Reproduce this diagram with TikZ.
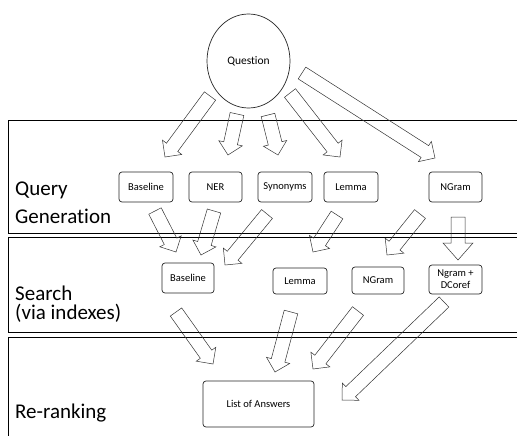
\documentclass[tikz,border=0pt]{standalone}
\usepackage{fontspec}
\setmainfont{Carlito}[Ligatures=NoCommon]
\usetikzlibrary{calc,shapes.geometric}
\def\asw{7pt}
\def\ahw{12pt}
\def\ahl{12pt}
\newcommand{\blkarrow}[2]{%
  \coordinate (hb) at ($(#2)!\ahl!(#1)$);
  \draw[blk] ($(#1)!\asw!90:(#2)$) -- ($(hb)!\asw!90:(#2)$) -- ($(hb)!\ahw!90:(#2)$) -- (#2)
    -- ($(hb)!\ahw!-90:(#2)$) -- ($(hb)!\asw!-90:(#2)$) -- ($(#1)!\asw!-90:(#2)$) -- cycle;
}
\tikzset{
  blk/.style={draw=black!80, line width=0.5pt, line join=miter},
  lane/.style={draw=black, line width=0.8pt},
  lanelabel/.style={anchor=base west, inner sep=0pt, font=\fontsize{21}{24}\selectfont},
  box/.style={draw=black!85, line width=0.7pt, rounded corners=3pt, inner sep=0pt, align=center,
    font=\fontsize{10.5}{12}\selectfont}
}
\begin{document}
\begin{tikzpicture}[x=1pt, y=-1pt]
\useasboundingbox (0,0) rectangle (517,436);
% lanes
\draw[lane] (520,120) -- (8,120) -- (8,233) -- (520,233);
\draw[lane] (520,237) -- (8,237) -- (8,332) -- (520,332);
\draw[lane] (520,337) -- (8,337) -- (8,440);
\node[lanelabel] (l1) at (15,195) {Query};
\node[lanelabel] (l2) at (15,223) {Generation};
\node[lanelabel] (l3) at (15,300) {Search};
\node[lanelabel] (l4) at (15,319) {(via indexes)};
\node[lanelabel] (l5) at (15,418) {Re-ranking};
% question
\node[draw=black!85, line width=0.7pt, ellipse, minimum width=83pt, minimum height=94pt, inner sep=0pt,
  font=\fontsize{11.5}{13}\selectfont] (q) at (248.5,61) {Question};
% query generation boxes
\node[box, minimum width=54pt, minimum height=30pt] (qbase) at (146,187) {Baseline};
\node[box, minimum width=53pt, minimum height=30pt] (qner) at (215.5,187) {NER};
\node[box, minimum width=54pt, minimum height=30pt] (qsyn) at (285,187) {Synonyms};
\node[box, minimum width=54pt, minimum height=30pt] (qlem) at (351,187) {Lemma};
\node[box, minimum width=53pt, minimum height=30pt] (qngr) at (455.5,187) {NGram};
% search boxes
\node[box, minimum width=52pt, minimum height=30pt] (sbase) at (188,278) {Baseline};
\node[box, minimum width=54pt, minimum height=26pt] (slem) at (300,281) {Lemma};
\node[box, minimum width=52pt, minimum height=27pt] (sngr) at (378,280.5) {NGram};
\node[box, minimum width=53pt, minimum height=29pt] (sdco) at (455.5,279.5) {Ngram +\\DCoref};
% answers
\node[box, minimum width=111pt, minimum height=46pt] (ans) at (258.5,404) {List of Answers};
% arrow ends
\coordinate (qa1s) at (210,96);  \coordinate (qa1e) at (165,157);
\coordinate (qa2s) at (237,114); \coordinate (qa2e) at (228,155);
\coordinate (qa3s) at (268,115); \coordinate (qa3e) at (278,155);
\coordinate (qa4s) at (290,93);  \coordinate (qa4e) at (340,157);
\coordinate (qa5s) at (302,73);  \coordinate (qa5e) at (435,158);
\coordinate (sa1s) at (155,211); \coordinate (sa1e) at (176,252);
\coordinate (sa2s) at (214,211); \coordinate (sa2e) at (201,255);
\coordinate (sa3s) at (267,214); \coordinate (sa3e) at (225,265);
\coordinate (sa4s) at (337,215); \coordinate (sa4e) at (313,252);
\coordinate (sa5s) at (420,214); \coordinate (sa5e) at (387,255);
\coordinate (sa6s) at (458,217); \coordinate (sa6e) at (458,260);
\coordinate (ra1s) at (176,312); \coordinate (ra1e) at (213,364);
\coordinate (ra2s) at (291,312); \coordinate (ra2e) at (275,372);
\coordinate (ra3s) at (358,311); \coordinate (ra3e) at (313,369);
\coordinate (ra4s) at (444,302); \coordinate (ra4e) at (342,400);
\blkarrow{qa1s}{qa1e}
\blkarrow{qa2s}{qa2e}
\blkarrow{qa3s}{qa3e}
\blkarrow{qa4s}{qa4e}
\blkarrow{qa5s}{qa5e}
\blkarrow{sa1s}{sa1e}
\blkarrow{sa2s}{sa2e}
\blkarrow{sa3s}{sa3e}
\blkarrow{sa4s}{sa4e}
\blkarrow{sa5s}{sa5e}
\begingroup
\def\ahw{15pt}\def\ahl{17pt}
\blkarrow{sa6s}{sa6e}
\endgroup
\blkarrow{ra1s}{ra1e}
\blkarrow{ra2s}{ra2e}
\blkarrow{ra3s}{ra3e}
\blkarrow{ra4s}{ra4e}
\end{tikzpicture}
\end{document}
